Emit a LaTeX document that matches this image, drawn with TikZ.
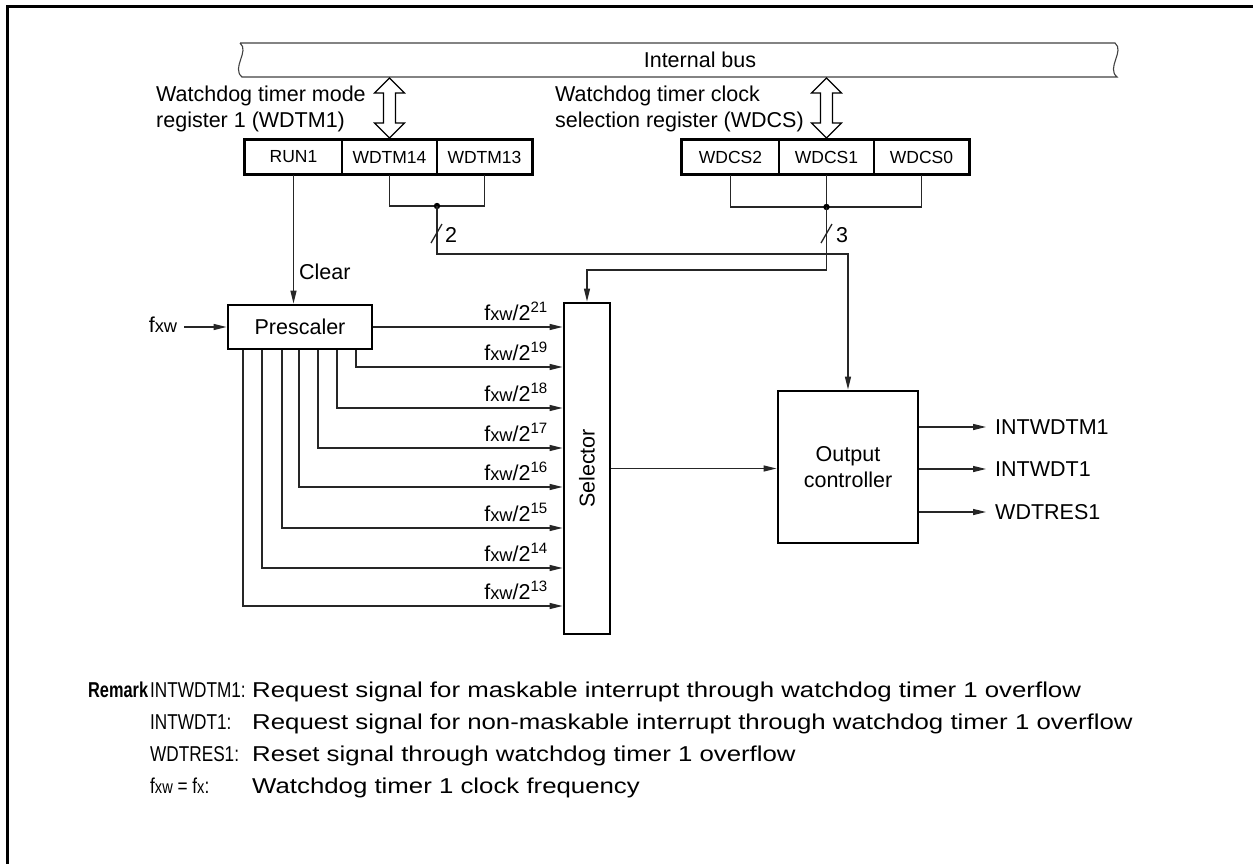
\documentclass[tikz,border=0pt]{standalone}
\usepackage{fontspec}
\setmainfont{Liberation Sans}
\usetikzlibrary{arrows.meta}
\newcommand\fxw{f\scalebox{0.85}{xw}}
\begin{document}
\begin{tikzpicture}[x=1pt,y=-1pt,
  font=\fontsize{21.5}{26}\selectfont,
  every node/.style={inner sep=0pt},
  conn/.style={line width=1.3pt, draw=black!85},
  arr/.style={conn, -{Triangle[length=13pt,width=6pt]}},
  box/.style={draw, line width=2.8pt},
  cell/.style={draw, line width=1.1pt, minimum height=34pt, font=\fontsize{17.5}{20}\selectfont},
  remfont/.style={font=\fontsize{21.5}{26}\selectfont}]
\useasboundingbox (0,0) rectangle (1253,863);
\clip (0,0) rectangle (1253,863);
% frame
\draw[line width=3pt] (7,900) -- (7,6) -- (1300,6);
% internal bus
\draw[line width=1.1pt, draw=black!75] (240,43) -- (1115,43)
  .. controls (1125,51) and (1106,68) .. (1117,77) -- (242,77)
  .. controls (231,68) and (250,51) .. (240,43);
\node (bus) at (700,60) {Internal bus};
% registers
\node[cell, minimum width=97pt] (run1) at (293.5,157) {RUN1};
\node[cell, minimum width=95pt] (wdtm14) at (389.5,157) {WDTM14};
\node[cell, minimum width=95pt] (wdtm13) at (484.5,157) {WDTM13};
\draw[line width=2.8pt] (run1.north west) rectangle (wdtm13.south east);
\node[cell, minimum width=97pt] (wdcs2) at (730.5,157) {WDCS2};
\node[cell, minimum width=95pt] (wdcs1) at (826.5,157) {WDCS1};
\node[cell, minimum width=95pt] (wdcs0) at (921.5,157) {WDCS0};
\draw[line width=2.8pt] (wdcs2.north west) rectangle (wdcs0.south east);
% hollow bus arrows
\foreach \ax in {389.5, 826.5} {
  \draw[line width=1.1pt, fill=white] (\ax,78) -- ++(15,15) -- ++(-9,0) -- ++(0,30) -- ++(9,0)
    -- ++(-15,15) -- ++(-15,-15) -- ++(9,0) -- ++(0,-30) -- ++(-9,0) -- cycle;
}
\node[anchor=west, align=left] (lblA) at (156,109) {Watchdog timer mode\\register 1 (WDTM1)};
\node[anchor=west, align=left] (lblB) at (555,109) {Watchdog timer clock\\selection register (WDCS)};
% blocks
\node[box, minimum width=144pt, minimum height=44pt] (pre) at (300,327) {Prescaler};
\node[box, minimum width=46pt, minimum height=331pt] (sel) at (587,468.5) {};
\node[rotate=90] (seltxt) at (sel.center) {Selector};
\node[box, minimum width=140pt, minimum height=152pt, align=center] (oc) at (848,467) {Output\\controller};
% clear
\draw[arr] (run1.south) -- (run1.south |- pre.north);
\node[anchor=west] (clr) at (299,272) {Clear};
% WDTM bits
\coordinate (j1) at (437,206);
\coordinate (b1) at (437,254);
\draw[conn] (wdtm14.south) |- (j1) -| (wdtm13.south);
\fill (j1) circle (3.2pt);
\draw[arr] (j1) -- (b1) -| (oc.north);
\draw[conn] (431,243) -- (442,224);
\node (n2) at (451,235) {2};
% WDCS bits
\coordinate (j2) at (826.5,207);
\coordinate (b2) at (826.5,270);
\draw[conn] (wdcs2.south) |- (j2) -| (wdcs0.south);
\draw[conn] (wdcs1.south) -- (j2);
\fill (j2) circle (3.2pt);
\draw[arr] (j2) -- (b2) -| (sel.north);
\draw[conn] (821,243) -- (832,224);
\node (n3) at (842,235) {3};
% input
\node (fin) at (163,325) {\fxw};
\draw[arr] ([xshift=7pt]fin.east |- pre.west) -- (pre.west);
% prescaler outputs
\draw[arr] (pre.east) -- (pre.east -| sel.west);
\node[anchor=base east] (l21) at (548,320) {\fxw/2\textsuperscript{21}};
\foreach \x/\y/\e in {356/367/19, 337/408/18, 318/448/17, 299/487/16, 282/528/15, 262/568/14, 243/606/13} {
  \draw[arr] (pre.south -| \x,0) |- (sel.west |- 0,\y);
  \node[anchor=base east] (l\e) at (548,\y-7) {\fxw/2\textsuperscript{\e}};
}
% selector to output controller
\draw[arr] (sel.east) -- (sel.east -| oc.west);
% outputs
\foreach \y/\t/\n in {427/INTWDTM1/o1, 469/INTWDT1/o2, 512/WDTRES1/o3} {
  \node[anchor=west] (\n) at (995,\y) {\t};
  \draw[arr] (oc.east |- \n.west) -- ([xshift=-9pt]\n.west);
}
% remark
\begin{scope}[remfont]
\node[anchor=base west, font=\fontsize{21.5}{26}\selectfont\bfseries] (rm) at (88,697) {\scalebox{0.76}[1]{Remark}};
\node[anchor=base west] (k1) at (150,697) {\scalebox{0.8}[1]{INTWDTM1:}};
\node[anchor=base west] (d1) at (252,697) {\scalebox{1.2}[1]{Request signal for maskable interrupt through watchdog timer 1 overflow}};
\node[anchor=base west] (k2) at (150,729) {\scalebox{0.8}[1]{INTWDT1:}};
\node[anchor=base west] (d2) at (252,729) {\scalebox{1.2}[1]{Request signal for non-maskable interrupt through watchdog timer 1 overflow}};
\node[anchor=base west] (k3) at (150,761) {\scalebox{0.8}[1]{WDTRES1:}};
\node[anchor=base west] (d3) at (252,761) {\scalebox{1.2}[1]{Reset signal through watchdog timer 1 overflow}};
\node[anchor=base west] (k4) at (150,793) {\scalebox{0.8}[1]{\fxw{} = f\scalebox{0.85}{x}:}};
\node[anchor=base west] (d4) at (252,793) {\scalebox{1.2}[1]{Watchdog timer 1 clock frequency}};
\end{scope}
\end{tikzpicture}
\end{document}
